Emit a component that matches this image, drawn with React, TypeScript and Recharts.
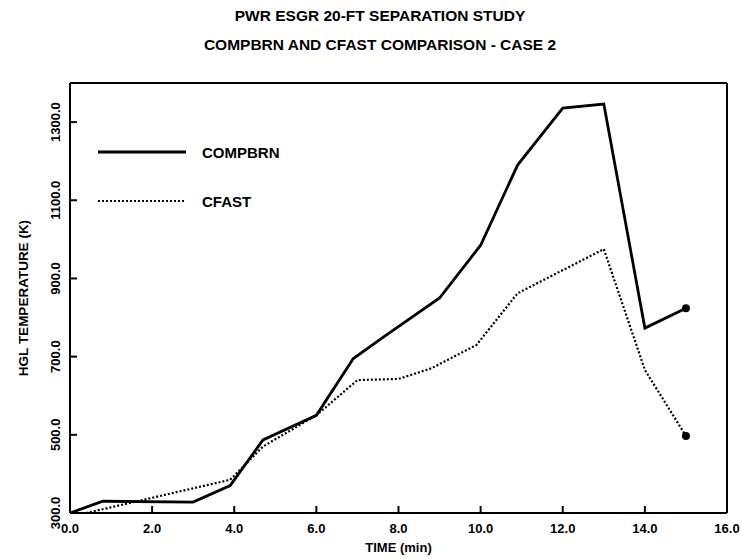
import React from 'react';
import { LineChart, Line, XAxis, YAxis, ReferenceLine } from 'recharts';

const compbrnTime = [0, 0.8, 3.0, 3.9, 4.7, 6.0, 6.9, 7.7, 9.0, 10.0, 10.9, 12.0, 13.0, 14.0, 15.0];
const compbrnTemp = [300, 330, 328, 370, 487, 550, 695, 755, 850, 985, 1190, 1336, 1346, 773, 824];

const cfastTime = [0, 0.4, 3.9, 4.7, 6.0, 7.0, 8.0, 8.8, 9.9, 10.9, 13.0, 14.0, 15.0];
const cfastTemp = [300, 300, 385, 470, 550, 640, 643, 670, 730, 862, 975, 666, 497];

const xTicks = [0, 2, 4, 6, 8, 10, 12, 14, 16];
const yTicks = [300, 500, 700, 900, 1100, 1300];

const compbrnData = compbrnTime.map((t, i) => ({ t, temp: compbrnTemp[i] }));
const cfastData = cfastTime.map((t, i) => ({ t, temp: cfastTemp[i] }));

const FONT = '"Liberation Sans", Arial, sans-serif';

// marker only on the final point of a series
const endDot = (len: number) => (props: any) => {
    if (props.index !== len - 1) return <g key={`d-${props.index}`} />;
    return <circle key={`d-${props.index}`} cx={props.cx} cy={props.cy} r={4} fill="#000" />;
};

const YTick = ({ x, y, payload }: any) => (
    <text
        x={x}
        y={y}
        transform={`rotate(-90 ${x} ${y})`}
        textAnchor="middle"
        fontFamily={FONT}
        fontWeight="bold"
        fontSize={13}
        fill="#000"
    >
        {Number(payload.value).toFixed(1)}
    </text>
);

const titleStyle: React.CSSProperties = {
    position: 'absolute',
    left: 0,
    width: 760,
    textAlign: 'center',
    fontFamily: FONT,
    fontWeight: 'bold',
    fontSize: 15.5,
    lineHeight: '18px',
};

const LegendBox = () => (
    <div style={{ position: 'absolute', left: 98, top: 142, fontFamily: FONT, fontWeight: 'bold', fontSize: 15, color: '#000' }}>
        <div style={{ display: 'flex', alignItems: 'center', height: 20, marginBottom: 29 }}>
            <svg width={88} height={6} style={{ marginRight: 16 }}>
                <line x1={0} y1={3} x2={88} y2={3} stroke="#000" strokeWidth={3} />
            </svg>
            <span>COMPBRN</span>
        </div>
        <div style={{ display: 'flex', alignItems: 'center', height: 20 }}>
            <svg width={88} height={6} style={{ marginRight: 16 }}>
                <line x1={0} y1={3} x2={86} y2={3} stroke="#000" strokeWidth={2.2} strokeDasharray="2 2" />
            </svg>
            <span>CFAST</span>
        </div>
    </div>
);

export default function App() {
    return (
        <div style={{ position: 'relative', width: 742, height: 559, background: '#fff' }}>
            <style>{`body{margin:0}`}</style>
            <div style={{ ...titleStyle, top: 7 }}>PWR ESGR 20-FT SEPARATION STUDY</div>
            <div style={{ ...titleStyle, top: 36 }}>COMPBRN AND CFAST COMPARISON - CASE 2</div>
            <LineChart width={742} height={559} margin={{ top: 83, right: 15, bottom: 0, left: 0 }}>
                <XAxis
                    dataKey="t"
                    type="number"
                    domain={[0, 16]}
                    ticks={xTicks}
                    interval={0}
                    height={46}
                    tickSize={-7}
                    tickMargin={18}
                    allowDuplicatedCategory={false}
                    axisLine={{ stroke: '#000', strokeWidth: 2 }}
                    tickLine={{ stroke: '#000', strokeWidth: 2 }}
                    tick={{ fill: '#000', fontFamily: FONT, fontWeight: 'bold', fontSize: 13 }}
                    tickFormatter={(v: number) => v.toFixed(1)}
                    label={{ value: 'TIME (min)', position: 'insideBottom', offset: 7, fill: '#000', fontFamily: FONT, fontWeight: 'bold', fontSize: 13 }}
                />
                <YAxis
                    dataKey="temp"
                    type="number"
                    domain={[300, 1400]}
                    ticks={yTicks}
                    interval={0}
                    width={70}
                    tickSize={-7}
                    tickMargin={17}
                    axisLine={{ stroke: '#000', strokeWidth: 2 }}
                    tickLine={{ stroke: '#000', strokeWidth: 2 }}
                    tick={<YTick />}
                    label={{ value: 'HGL TEMPERATURE (K)', angle: -90, position: 'insideLeft', offset: 23, fill: '#000', fontFamily: FONT, fontWeight: 'bold', fontSize: 13.5, style: { textAnchor: 'middle' } }}
                />
                <ReferenceLine y={1400} stroke="#000" strokeWidth={2} />
                <ReferenceLine x={16} stroke="#000" strokeWidth={2} />
                <Line
                    data={compbrnData}
                    dataKey="temp"
                    name="COMPBRN"
                    type="linear"
                    stroke="#000"
                    strokeWidth={2.8}
                    dot={endDot(compbrnData.length)}
                    activeDot={false}
                    isAnimationActive={false}
                />
                <Line
                    data={cfastData}
                    dataKey="temp"
                    name="CFAST"
                    type="linear"
                    stroke="#000"
                    strokeWidth={2.2}
                    strokeDasharray="2 2"
                    dot={endDot(cfastData.length)}
                    activeDot={false}
                    isAnimationActive={false}
                />
            </LineChart>
            <LegendBox />
        </div>
    );
}
